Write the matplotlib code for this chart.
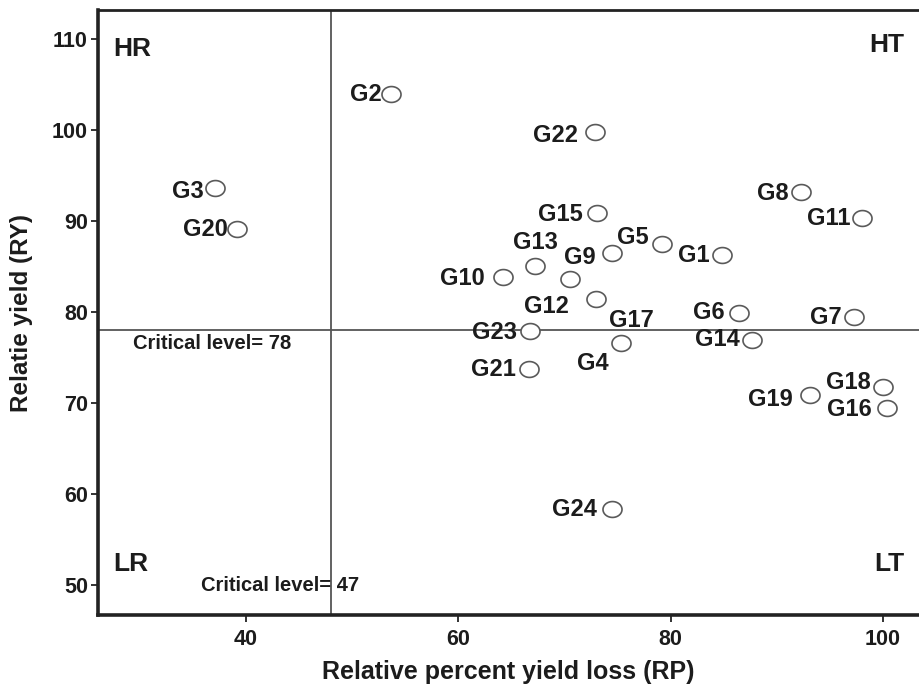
import numpy as np
import matplotlib
matplotlib.use("Agg")
import matplotlib.pyplot as plt
from matplotlib.path import Path

# genotype scores
genotypes = ["G1", "G2", "G3", "G4", "G5", "G6", "G7", "G8", "G9", "G10", "G11", "G12",
             "G13", "G14", "G15", "G16", "G17", "G18", "G19", "G20", "G21", "G22", "G23", "G24"]
rp = [84.8, 53.7, 37.1, 75.3, 79.2, 86.4, 97.3, 92.3, 74.5, 64.2, 98.0, 70.5,
      67.2, 87.7, 73.1, 100.4, 73.0, 100.0, 93.1, 39.2, 66.7, 72.9, 66.8, 74.5]
ry = [86.3, 104.0, 93.6, 76.6, 87.5, 79.9, 79.5, 93.2, 86.5, 83.9, 90.4, 83.6,
      85.1, 76.9, 90.9, 69.5, 81.5, 71.8, 70.9, 89.2, 73.8, 99.8, 77.9, 58.4]
RP_CRIT = 48      # vertical reference line
RY_CRIT = 78      # horizontal reference line
quadrants = ["HR", "HT", "LR", "LT"]

# label placement (offset pixels: right edge of label, vertical centre)
DEFAULT_OFF = (-13, -1)
label_off = {"G1": (-12, -1), "G2": (-10, -1), "G3": (-11, -3), "G4": (-12, -20),
             "G5": (-13, 6), "G6": (-14, 1), "G9": (-17, -4), "G10": (-18, -2),
             "G11": (-11, -1), "G12": (-1, -27), "G13": (23, 23), "G14": (-13, 1),
             "G15": (-15, -1), "G16": (-15, -2), "G17": (57, -22), "G18": (-12, 4),
             "G19": (-17, -4), "G20": (-10, -1), "G22": (-17, -3), "G24": (-15, -1)}

FONT = ["Liberation Sans", "DejaVu Sans"]
plt.rcParams["font.family"] = FONT
plt.rcParams["font.weight"] = "bold"
INK = "#1c1c1c"

fig = plt.figure(figsize=(9.19, 6.94), dpi=100)
W, H = 919, 694
ax = fig.add_axes([97.7 / W, (H - 615) / H, (W - 97.7) / W, (615 - 10) / H])
ax.set_xlim(26.04, 103.4)
ax.set_ylim(46.75, 113.2)

# slightly wide ellipse marker (source image is stretched)
t = np.linspace(0, 2 * np.pi, 80)
ell = Path(np.column_stack([1.2 * np.cos(t), np.sin(t)]), closed=True)

ax.axhline(RY_CRIT, color="#555555", lw=1.3, zorder=1)
ax.axvline(RP_CRIT, color="#555555", lw=1.3, zorder=1)
ax.plot(rp, ry, ls="none", marker=ell, ms=13.7, mfc="white", mec="#5a5a5a",
        mew=1.2, zorder=3)

for g, x, y in zip(genotypes, rp, ry):
    dx, dy = label_off.get(g, DEFAULT_OFF)
    ax.annotate(g, (x, y), xytext=(dx, dy), textcoords="offset pixels",
                ha="right", va="center", fontsize=17, fontweight="bold", color=INK)

# quadrant tags
qpos = {"HR": (27.5, 108.9, "left"), "HT": (102.0, 109.4, "right"),
        "LR": (27.5, 52.4, "left"), "LT": (102.0, 52.4, "right")}
for q in quadrants:
    x, y, ha = qpos[q]
    ax.text(x, y, q, ha=ha, va="center", fontsize=19, fontweight="bold", color=INK)

ax.text(29.4, 76.6, f"Critical level= {RY_CRIT}", ha="left", va="center",
        fontsize=14.5, fontweight="bold", color=INK)
ax.text(35.8, 50.0, "Critical level= 47", ha="left", va="center",
        fontsize=14.5, fontweight="bold", color=INK)

ax.set_xticks([40, 60, 80, 100])
ax.set_yticks([50, 60, 70, 80, 90, 100, 110])
ax.tick_params(axis="both", direction="out", length=5, width=1.4, color="#333333",
               labelsize=15.5, labelcolor=INK)
for lab in ax.get_xticklabels() + ax.get_yticklabels():
    lab.set_fontweight("bold")
ax.tick_params(axis="x", pad=5)
ax.tick_params(axis="y", pad=2)

ax.spines["left"].set_linewidth(2.6)
ax.spines["bottom"].set_linewidth(2.6)
ax.spines["top"].set_linewidth(2.0)
ax.spines["right"].set_visible(False)
for s in ("left", "bottom", "top"):
    ax.spines[s].set_color("#222222")

ax.set_xlabel("Relative percent yield loss (RP)", fontsize=18, fontweight="bold",
              color=INK, labelpad=7)
ax.set_ylabel("Relatie yield (RY)", fontsize=17.5, fontweight="bold", color=INK,
              labelpad=14)

fig.savefig("out.png", dpi=100)
